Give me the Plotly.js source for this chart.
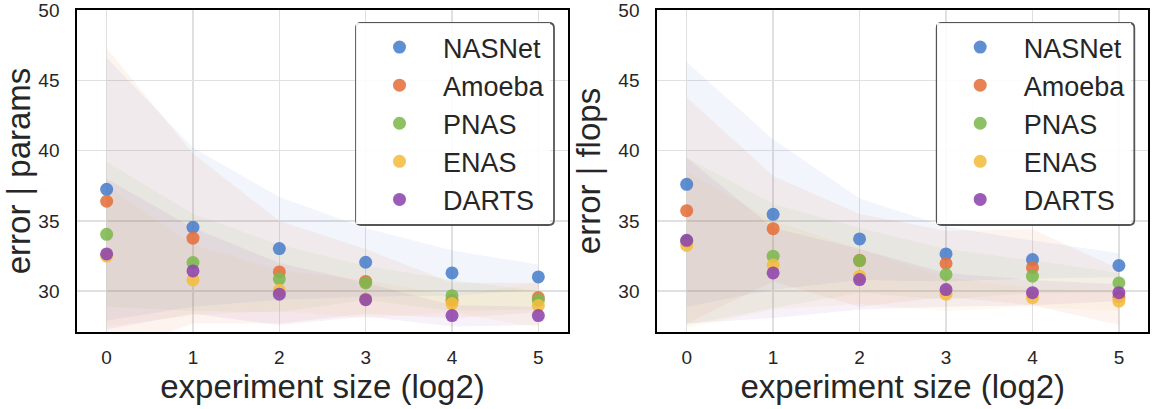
<!DOCTYPE html>
<html>
<head>
<meta charset="utf-8">
<script src="https://cdn.plot.ly/plotly-3.0.1.min.js"></script>
<style>
  html, body { margin: 0; padding: 0; background: #ffffff; }
  #chart { width: 1155px; height: 409px; }
</style>
</head>
<body>
<div id="chart"></div>
<script>
// Experiment sizes (log2) shared by both panels
const sizes = [0, 1, 2, 3, 4, 5];

const methods = ['NASNet', 'Amoeba', 'PNAS', 'ENAS', 'DARTS'];
const colors = ['#4a7fcb', '#e5703b', '#7db84f', '#f2bd3f', '#8e44ad'];

// Panel 1: error | params — point estimates
const paramsNASNet = [37.25, 34.55, 33.03, 32.06, 31.30, 31.02];
const paramsAmoeba = [36.40, 33.77, 31.37, 30.70, 29.35, 29.55];
const paramsPNAS   = [34.05, 32.04, 30.88, 30.59, 29.68, 29.36];
const paramsENAS   = [32.50, 30.80, 30.07, 29.45, 29.12, 28.98];
const paramsDARTS  = [32.65, 31.44, 29.79, 29.40, 28.27, 28.27];

// Panel 1: interval bounds
const paramsNASNetHi = [46.6, 40.2, 36.7, 34.5, 32.9, 31.9];
const paramsNASNetLo = [27.9, 28.9, 29.4, 29.6, 29.7, 30.1];
const paramsAmoebaHi = [47.3, 39.8, 35.0, 33.0, 30.6, 30.6];
const paramsAmoebaLo = [25.5, 27.7, 27.7, 28.4, 28.1, 28.5];
const paramsPNASHi   = [39.2, 35.5, 33.3, 31.8, 30.8, 30.0];
const paramsPNASLo   = [28.9, 28.6, 28.5, 29.4, 28.6, 28.7];
const paramsENASHi   = [37.5, 33.3, 31.5, 30.8, 29.7, 30.6];
const paramsENASLo   = [27.5, 28.3, 28.6, 28.1, 28.5, 27.4];
const paramsDARTSHi  = [38.0, 34.5, 32.0, 30.6, 29.0, 28.9];
const paramsDARTSLo  = [27.3, 28.4, 27.6, 28.2, 27.5, 27.6];

// Panel 2: error | flops — point estimates
const flopsNASNet = [37.60, 35.47, 33.72, 32.65, 32.25, 31.83];
const flopsAmoeba = [35.73, 34.45, 32.20, 31.97, 31.68, 29.60];
const flopsPNAS   = [33.55, 32.49, 32.18, 31.19, 31.07, 30.59];
const flopsENAS   = [33.25, 31.87, 31.07, 29.79, 29.55, 29.29];
const flopsDARTS  = [33.62, 31.30, 30.83, 30.12, 29.90, 29.90];

// Panel 2: interval bounds
const flopsNASNetHi = [46.3, 40.8, 36.6, 34.6, 33.6, 32.7];
const flopsNASNetLo = [28.9, 30.1, 30.8, 30.7, 30.9, 31.0];
const flopsAmoebaHi = [43.8, 38.2, 35.5, 34.3, 34.4, 31.6];
const flopsAmoebaLo = [27.7, 30.7, 28.9, 29.6, 29.0, 27.6];
const flopsPNASHi   = [39.5, 36.2, 34.5, 33.0, 32.2, 31.3];
const flopsPNASLo   = [27.6, 28.8, 29.9, 29.4, 29.9, 29.9];
const flopsENASHi   = [38.5, 35.0, 33.0, 31.0, 30.2, 30.0];
const flopsENASLo   = [27.4, 28.7, 29.1, 28.6, 28.9, 28.6];
const flopsDARTSHi  = [39.5, 34.5, 33.0, 31.3, 30.8, 30.5];
const flopsDARTSLo  = [27.7, 28.1, 28.7, 28.9, 29.0, 29.3];

const yTicks = [30, 35, 40, 45, 50];

const panels = [
  {
    xa: 'x', ya: 'y', legend: 'legend',
    mean: [paramsNASNet, paramsAmoeba, paramsPNAS, paramsENAS, paramsDARTS],
    hi: [paramsNASNetHi, paramsAmoebaHi, paramsPNASHi, paramsENASHi, paramsDARTSHi],
    lo: [paramsNASNetLo, paramsAmoebaLo, paramsPNASLo, paramsENASLo, paramsDARTSLo]
  },
  {
    xa: 'x2', ya: 'y2', legend: 'legend2',
    mean: [flopsNASNet, flopsAmoeba, flopsPNAS, flopsENAS, flopsDARTS],
    hi: [flopsNASNetHi, flopsAmoebaHi, flopsPNASHi, flopsENASHi, flopsDARTSHi],
    lo: [flopsNASNetLo, flopsAmoebaLo, flopsPNASLo, flopsENASLo, flopsDARTSLo]
  }
];

function rgba(hex, a) {
  const n = parseInt(hex.slice(1), 16);
  return 'rgba(' + ((n >> 16) & 255) + ',' + ((n >> 8) & 255) + ',' + (n & 255) + ',' + a + ')';
}

const traces = [];
panels.forEach(p => {
  // shaded intervals first, so the points sit above them
  methods.forEach((m, i) => {
    traces.push({
      type: 'scatter', mode: 'lines',
      x: sizes.concat(sizes.slice().reverse()),
      y: p.hi[i].concat(p.lo[i].slice().reverse()),
      fill: 'toself', fillcolor: rgba(colors[i], 0.075),
      line: { width: 0 }, hoverinfo: 'skip', showlegend: false,
      xaxis: p.xa, yaxis: p.ya
    });
  });
  methods.forEach((m, i) => {
    traces.push({
      type: 'scatter', mode: 'markers', name: m,
      x: sizes, y: p.mean[i],
      marker: { color: colors[i], size: 13, opacity: 0.88 },
      xaxis: p.xa, yaxis: p.ya, legend: p.legend
    });
  });
});

const fontFamily = 'Liberation Sans, Arial, sans-serif';
const W = 1155, H = 409;
const yDom = [1 - 332 / H, 1 - 10 / H];

function xAxis(domain, anchor) {
  return {
    domain: domain, anchor: anchor, range: [-0.34, 5.34],
    tickvals: sizes, ticks: '', showline: true, mirror: true,
    linecolor: '#000000', linewidth: 2,
    gridcolor: '#e0e0e0', gridwidth: 1.5, zeroline: false,
    tickfont: { size: 19, color: '#262626', family: fontFamily },
    ticklabelstandoff: 7, ticklabeloverflow: 'allow',
    title: { text: 'experiment size (log2)', font: { size: 33, color: '#262626', family: fontFamily }, standoff: 8 }
  };
}
function yAxis(anchor, label) {
  return {
    domain: yDom, anchor: anchor, range: [27.1, 50],
    tickvals: yTicks, ticks: '', showline: true, mirror: true,
    linecolor: '#000000', linewidth: 2,
    gridcolor: '#e0e0e0', gridwidth: 1.5, zeroline: false,
    tickfont: { size: 19, color: '#262626', family: fontFamily },
    ticklabelstandoff: 12, ticklabeloverflow: 'allow',
    title: { text: label, font: { size: 33, color: '#262626', family: fontFamily }, standoff: 8 }
  };
}

function legendBox(x, y) {
  return {
    x: x, y: y, xanchor: 'left', yanchor: 'top',
    bgcolor: 'rgba(255,255,255,0.9)', borderwidth: 0,
    font: { size: 27, color: '#262626', family: fontFamily },
    itemwidth: 77, tracegroupgap: 0
  };
}

// rounded frame around each legend, in paper coordinates
function roundedFrame(x0px, y0px, x1px, y1px) {
  const r = 5;
  const px = v => (v / W).toFixed(5);
  const py = v => (1 - v / H).toFixed(5);
  const d = 'M ' + px(x0px + r) + ',' + py(y0px) +
    ' L ' + px(x1px - r) + ',' + py(y0px) +
    ' Q ' + px(x1px) + ',' + py(y0px) + ' ' + px(x1px) + ',' + py(y0px + r) +
    ' L ' + px(x1px) + ',' + py(y1px - r) +
    ' Q ' + px(x1px) + ',' + py(y1px) + ' ' + px(x1px - r) + ',' + py(y1px) +
    ' L ' + px(x0px + r) + ',' + py(y1px) +
    ' Q ' + px(x0px) + ',' + py(y1px) + ' ' + px(x0px) + ',' + py(y1px - r) +
    ' L ' + px(x0px) + ',' + py(y0px + r) +
    ' Q ' + px(x0px) + ',' + py(y0px) + ' ' + px(x0px + r) + ',' + py(y0px) + ' Z';
  return { type: 'path', xref: 'paper', yref: 'paper', path: d,
           line: { color: '#555555', width: 1.8 }, layer: 'above' };
}

const layout = {
  width: W, height: H,
  margin: { l: 0, r: 0, t: 0, b: 0 },
  paper_bgcolor: '#ffffff', plot_bgcolor: '#ffffff',
  font: { family: fontFamily },
  xaxis: xAxis([77.3 / W, 567.7 / W], 'y'),
  yaxis: yAxis('x', 'error | params'),
  xaxis2: xAxis([657.3 / W, 1148.3 / W], 'y2'),
  yaxis2: yAxis('x2', 'error | flops'),
  legend: legendBox(356 / W, 1 - 23 / H),
  legend2: legendBox(936.7 / W, 1 - 23 / H),
  shapes: [roundedFrame(356, 23, 554, 225), roundedFrame(936.7, 23, 1134.3, 225)]
};

Plotly.newPlot('chart', traces, layout, { staticPlot: true, displayModeBar: false });
</script>
</body>
</html>
